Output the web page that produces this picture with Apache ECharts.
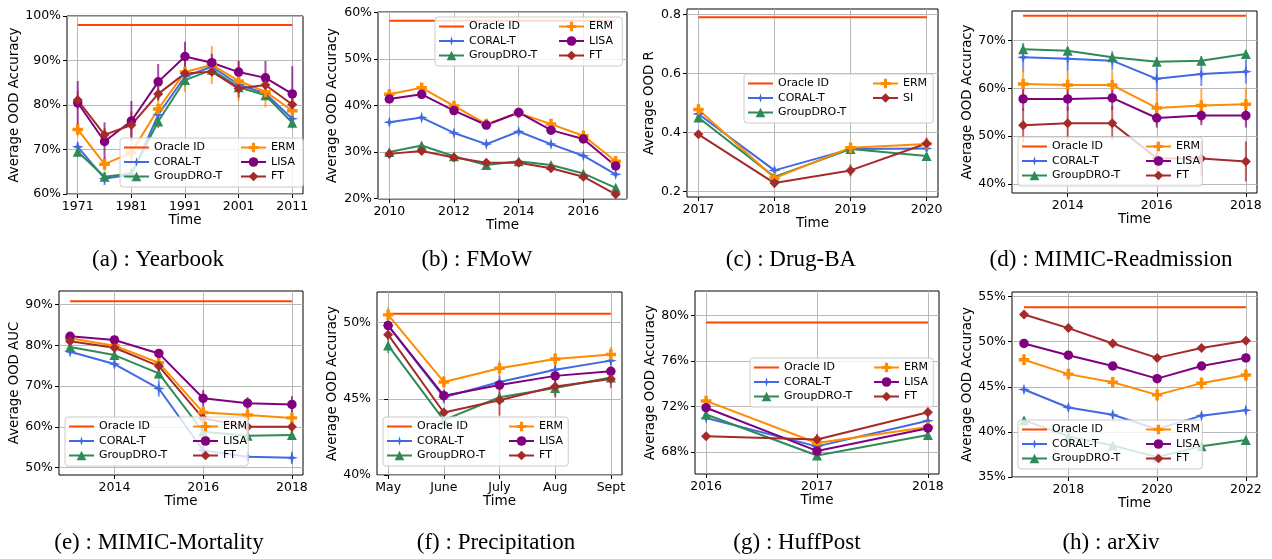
<!DOCTYPE html>
<html><head><meta charset="utf-8">
<script src="https://cdn.jsdelivr.net/npm/echarts@6/dist/echarts.min.js"></script>
<style>html,body{margin:0;padding:0;background:#fff}#c{width:1272px;height:559px}</style>
</head><body><div id="c"></div>
<script>
// ---------- (a) Yearbook ----------
const yb_x = [1971, 1976, 1981, 1986, 1991, 1996, 2001, 2006, 2011];
const yb_xticks = [1971, 1981, 1991, 2001, 2011];
const yb_yticks = [60, 70, 80, 90, 100];
const yb_oracle = 98.0;
const yb_coral = [70.6, 63.5, 64.3, 77.8, 86.4, 88.6, 84.6, 82.6, 76.9];
const yb_coral_err = [1.0, 1.5, 1.5, 2.0, 1.5, 1.0, 1.0, 1.0, 1.2];
const yb_gdro = [69.5, 63.9, 64.6, 76.3, 85.6, 87.9, 84.0, 82.2, 76.0];
const yb_gdro_err = [1.0, 1.0, 1.0, 1.5, 1.5, 1.0, 1.0, 1.0, 1.0];
const yb_erm = [74.5, 66.7, 69.3, 79.1, 87.4, 89.0, 85.4, 83.0, 78.7];
const yb_erm_err = [1.5, 1.5, 2.0, 4.0, 4.5, 4.3, 4.5, 3.5, 4.0];
const yb_lisa = [80.5, 71.8, 76.4, 85.2, 90.9, 89.5, 87.4, 86.1, 82.5];
const yb_lisa_err = [4.9, 4.3, 4.5, 4.0, 3.3, 2.0, 2.5, 3.8, 6.2];
const yb_ft = [81.1, 73.3, 75.5, 82.5, 87.1, 87.5, 83.7, 84.5, 80.1];
const yb_ft_err = [2.0, 1.5, 3.0, 1.5, 1.0, 1.0, 2.0, 1.5, 2.0];

// ---------- (b) FMoW ----------
const fm_x = [2010, 2011, 2012, 2013, 2014, 2015, 2016, 2017];
const fm_xticks = [2010, 2012, 2014, 2016];
const fm_yticks = [20, 30, 40, 50, 60];
const fm_oracle = 58.2;
const fm_coral = [36.4, 37.4, 34.1, 31.7, 34.4, 31.7, 29.2, 25.2];
const fm_coral_err = [0.3, 0.3, 0.3, 0.4, 0.3, 0.3, 0.3, 0.4];
const fm_gdro = [30.0, 31.4, 29.1, 27.2, 28.0, 27.2, 25.4, 22.3];
const fm_gdro_err = [0.3, 0.4, 0.3, 0.4, 0.3, 0.3, 0.3, 0.3];
const fm_erm = [42.4, 43.8, 39.9, 36.0, 38.4, 36.0, 33.5, 28.0];
const fm_erm_err = [0.3, 0.3, 0.3, 0.3, 0.3, 0.3, 0.3, 0.3];
const fm_lisa = [41.4, 42.4, 38.9, 35.8, 38.5, 34.7, 32.8, 27.0];
const fm_lisa_err = [0.3, 0.3, 0.3, 0.3, 0.3, 0.3, 0.3, 0.3];
const fm_ft = [29.6, 30.2, 28.8, 27.7, 27.7, 26.5, 24.7, 20.9];
const fm_ft_err = [0.3, 0.3, 0.3, 0.4, 0.3, 0.3, 0.3, 0.3];

// ---------- (c) Drug-BA ----------
const db_x = [2017, 2018, 2019, 2020];
const db_xticks = [2017, 2018, 2019, 2020];
const db_yticks = [0.2, 0.4, 0.6, 0.8];
const db_oracle = 0.790;
const db_coral = [0.463, 0.272, 0.344, 0.346];
const db_coral_err = [0.01, 0.01, 0.005, 0.01];
const db_gdro = [0.451, 0.250, 0.344, 0.321];
const db_gdro_err = [0.01, 0.01, 0.005, 0.01];
const db_erm = [0.478, 0.246, 0.349, 0.361];
const db_erm_err = [0.02, 0.01, 0.01, 0.015];
const db_si = [0.394, 0.229, 0.272, 0.363];
const db_si_err = [0.01, 0.015, 0.02, 0.02];

// ---------- (d) MIMIC-Readmission ----------
const mr_x = [2013, 2014, 2015, 2016, 2017, 2018];
const mr_xticks = [2014, 2016, 2018];
const mr_yticks = [40, 50, 60, 70];
const mr_oracle = 75.2;
const mr_coral = [66.5, 66.2, 65.8, 62.0, 63.0, 63.5];
const mr_coral_err = [3.0, 2.5, 2.0, 2.5, 2.5, 2.5];
const mr_gdro = [68.2, 67.9, 66.5, 65.6, 65.8, 67.2];
const mr_gdro_err = [1.0, 0.8, 0.8, 1.0, 1.0, 0.8];
const mr_erm = [60.9, 60.7, 60.7, 55.9, 56.4, 56.7];
const mr_erm_err = [3.3, 3.0, 3.0, 3.5, 3.5, 3.5];
const mr_lisa = [57.8, 57.8, 58.0, 53.8, 54.3, 54.3];
const mr_lisa_err = [2.5, 2.5, 2.5, 2.0, 2.0, 2.5];
const mr_ft = [52.3, 52.7, 52.7, 45.4, 45.3, 44.7];
const mr_ft_err = [3.6, 3.5, 3.5, 3.5, 3.6, 4.2];

// ---------- (e) MIMIC-Mortality ----------
const mm_x = [2013, 2014, 2015, 2016, 2017, 2018];
const mm_xticks = [2014, 2016, 2018];
const mm_yticks = [50, 60, 70, 80, 90];
const mm_oracle = 90.8;
const mm_coral = [78.4, 75.4, 69.4, 54.2, 52.7, 52.4];
const mm_coral_err = [0.8, 1.0, 2.0, 2.0, 1.0, 1.5];
const mm_gdro = [79.6, 77.6, 73.1, 58.8, 57.8, 58.0];
const mm_gdro_err = [0.8, 0.8, 1.5, 1.5, 1.0, 1.0];
const mm_erm = [81.7, 79.9, 75.7, 63.5, 62.9, 62.2];
const mm_erm_err = [0.5, 0.5, 1.0, 1.5, 1.5, 1.5];
const mm_lisa = [82.2, 81.3, 78.0, 67.0, 65.8, 65.5];
const mm_lisa_err = [0.5, 0.8, 0.8, 2.0, 1.5, 2.0];
const mm_ft = [81.0, 79.4, 74.9, 62.1, 60.0, 60.0];
const mm_ft_err = [0.8, 1.0, 3.0, 2.5, 2.5, 2.0];

// ---------- (f) Precipitation ----------
const pr_x = [0, 1, 2, 3, 4];
const pr_xticks = [0, 1, 2, 3, 4];
const pr_xlabels = ['May', 'June', 'July', 'Aug', 'Sept'];
const pr_yticks = [40, 45, 50];
const pr_oracle = 50.57;
const pr_coral = [49.8, 45.1, 46.1, 46.9, 47.5];
const pr_coral_err = [0.3, 0.4, 0.4, 0.3, 0.3];
const pr_gdro = [48.5, 43.6, 45.1, 45.7, 46.4];
const pr_gdro_err = [0.5, 0.3, 0.3, 0.5, 0.3];
const pr_erm = [50.5, 46.1, 47.0, 47.6, 47.9];
const pr_erm_err = [0.5, 0.4, 0.5, 0.4, 0.5];
const pr_lisa = [49.8, 45.2, 45.9, 46.5, 46.8];
const pr_lisa_err = [0.3, 0.4, 0.3, 0.3, 0.3];
const pr_ft = [49.2, 44.1, 44.9, 45.8, 46.3];
const pr_ft_err = [0.3, 0.3, 1.0, 0.7, 0.6];

// ---------- (g) HuffPost ----------
const hp_x = [2016, 2017, 2018];
const hp_xticks = [2016, 2017, 2018];
const hp_yticks = [68, 72, 76, 80];
const hp_oracle = 79.4;
const hp_coral = [71.0, 68.5, 70.75];
const hp_coral_err = [0.2, 0.2, 0.3];
const hp_gdro = [71.3, 67.7, 69.5];
const hp_gdro_err = [0.2, 0.3, 0.3];
const hp_erm = [72.5, 68.8, 70.2];
const hp_erm_err = [0.2, 0.3, 0.8];
const hp_lisa = [71.9, 68.1, 70.1];
const hp_lisa_err = [0.2, 0.2, 0.3];
const hp_ft = [69.4, 69.1, 71.5];
const hp_ft_err = [0.2, 0.5, 0.6];

// ---------- (h) arXiv ----------
const ax_x = [2017, 2018, 2019, 2020, 2021, 2022];
const ax_xticks = [2018, 2020, 2022];
const ax_yticks = [35, 40, 45, 50, 55];
const ax_oracle = 53.8;
const ax_coral = [44.7, 42.7, 41.9, 40.3, 41.8, 42.4];
const ax_coral_err = [0.3, 0.3, 0.4, 0.3, 0.3, 0.4];
const ax_gdro = [41.3, 39.5, 38.5, 37.2, 38.4, 39.1];
const ax_gdro_err = [0.3, 0.3, 0.3, 0.3, 0.3, 0.4];
const ax_erm = [48.0, 46.4, 45.5, 44.1, 45.4, 46.3];
const ax_erm_err = [0.6, 0.6, 0.6, 0.7, 0.7, 0.7];
const ax_lisa = [49.8, 48.5, 47.3, 45.9, 47.3, 48.2];
const ax_lisa_err = [0.3, 0.3, 0.3, 0.3, 0.3, 0.3];
const ax_ft = [53.0, 51.5, 49.8, 48.2, 49.3, 50.1];
const ax_ft_err = [0.3, 0.3, 0.3, 0.3, 0.3, 0.3];

// ---------- styles ----------
const NAMES = {oracle:'Oracle ID', coral:'CORAL-T', gdro:'GroupDRO-T', erm:'ERM', lisa:'LISA', ft:'FT', si:'SI'};
const COLORS = {oracle:'#ff4500', coral:'#4169e1', gdro:'#2e8b57', erm:'#ff8c00', lisa:'#800080', ft:'#a52a2a', si:'#a52a2a'};
const STAR4 = 'path://M0,-10 L2.2,-2.2 L10,0 L2.2,2.2 L0,10 L-2.2,2.2 L-10,0 L-2.2,-2.2 Z';
const PLUSP = 'path://M-3.3,-10 L3.3,-10 L3.3,-3.3 L10,-3.3 L10,3.3 L3.3,3.3 L3.3,10 L-3.3,10 L-3.3,3.3 L-10,3.3 L-10,-3.3 L-3.3,-3.3 Z';
const SYMBOLS = {coral:STAR4, gdro:'triangle', erm:PLUSP, lisa:'circle', ft:'diamond', si:'diamond'};
const SIZES = {coral:12, gdro:10, erm:10.5, lisa:9.5, ft:10, si:10};

const panels = [
  {caption:'(a) : Yearbook', yname:'Average OOD Accuracy', x:yb_x, xticks:yb_xticks, yticks:yb_yticks, oracle:yb_oracle, pct:true,
   series:[['coral',yb_coral,yb_coral_err],['gdro',yb_gdro,yb_gdro_err],['erm',yb_erm,yb_erm_err],['lisa',yb_lisa,yb_lisa_err],['ft',yb_ft,yb_ft_err]]},
  {caption:'(b) : FMoW', yname:'Average OOD Accuracy', x:fm_x, xticks:fm_xticks, yticks:fm_yticks, oracle:fm_oracle, pct:true,
   series:[['coral',fm_coral,fm_coral_err],['gdro',fm_gdro,fm_gdro_err],['erm',fm_erm,fm_erm_err],['lisa',fm_lisa,fm_lisa_err],['ft',fm_ft,fm_ft_err]]},
  {caption:'(c) : Drug-BA', yname:'Average OOD R', x:db_x, xticks:db_xticks, yticks:db_yticks, oracle:db_oracle, pct:false,
   series:[['coral',db_coral,db_coral_err],['gdro',db_gdro,db_gdro_err],['erm',db_erm,db_erm_err],['si',db_si,db_si_err]]},
  {caption:'(d) : MIMIC-Readmission', yname:'Average OOD Accuracy', x:mr_x, xticks:mr_xticks, yticks:mr_yticks, oracle:mr_oracle, pct:true,
   series:[['coral',mr_coral,mr_coral_err],['gdro',mr_gdro,mr_gdro_err],['erm',mr_erm,mr_erm_err],['lisa',mr_lisa,mr_lisa_err],['ft',mr_ft,mr_ft_err]]},
  {caption:'(e) : MIMIC-Mortality', yname:'Average OOD AUC', x:mm_x, xticks:mm_xticks, yticks:mm_yticks, oracle:mm_oracle, pct:true,
   series:[['coral',mm_coral,mm_coral_err],['gdro',mm_gdro,mm_gdro_err],['erm',mm_erm,mm_erm_err],['lisa',mm_lisa,mm_lisa_err],['ft',mm_ft,mm_ft_err]]},
  {caption:'(f) : Precipitation', yname:'Average OOD Accuracy', x:pr_x, xticks:pr_xticks, xlabels:pr_xlabels, yticks:pr_yticks, oracle:pr_oracle, pct:true,
   series:[['coral',pr_coral,pr_coral_err],['gdro',pr_gdro,pr_gdro_err],['erm',pr_erm,pr_erm_err],['lisa',pr_lisa,pr_lisa_err],['ft',pr_ft,pr_ft_err]]},
  {caption:'(g) : HuffPost', yname:'Average OOD Accuracy', x:hp_x, xticks:hp_xticks, yticks:hp_yticks, oracle:hp_oracle, pct:true,
   series:[['coral',hp_coral,hp_coral_err],['gdro',hp_gdro,hp_gdro_err],['erm',hp_erm,hp_erm_err],['lisa',hp_lisa,hp_lisa_err],['ft',hp_ft,hp_ft_err]]},
  {caption:'(h) : arXiv', yname:'Average OOD Accuracy', x:ax_x, xticks:ax_xticks, yticks:ax_yticks, oracle:ax_oracle, pct:true,
   series:[['coral',ax_coral,ax_coral_err],['gdro',ax_gdro,ax_gdro_err],['erm',ax_erm,ax_erm_err],['lisa',ax_lisa,ax_lisa_err],['ft',ax_ft,ax_ft_err]]}
];

// layout: grid [left, top, width, height], axis ranges, y-name gap, legend box [left, top, width], col2 offset, caption centre
const layout = [
  {grid:[67, 16, 236, 178], xr:[1969, 2013], yr:[60, 100], yg:45, leg:[120, 138, 183], off:120, cap:[158, 260]},
  {grid:[378, 12, 249, 187], xr:[2009.65, 2017.35], yr:[19.9, 60.1], yg:39, leg:[435, 17, 187], off:123, cap:[477, 260]},
  {grid:[687, 9, 251, 188], xr:[2016.85, 2020.15], yr:[0.182, 0.818], yg:31, leg:[744, 74, 189], off:128, cap:[791, 260]},
  {grid:[1012, 11, 245, 182], xr:[2012.75, 2018.25], yr:[38.1, 76.2], yg:38, leg:[1018, 137, 184], off:127, cap:[1111, 260]},
  {grid:[59, 291, 244, 184], xr:[2012.75, 2018.25], yr:[48.2, 93.3], yg:37, leg:[65, 417, 183], off:127, cap:[159, 543]},
  {grid:[377, 292, 245, 183], xr:[-0.2, 4.2], yr:[40, 52], yg:38, leg:[383, 417, 185], off:125, cap:[496, 543]},
  {grid:[695, 291, 244, 183], xr:[2015.9, 2018.1], yr:[66.07, 82.17], yg:37, leg:[750, 358, 183], off:123, cap:[797, 543]},
  {grid:[1012, 292, 245, 185], xr:[2016.73, 2022.25], yr:[35, 55.5], yg:38, leg:[1018, 420, 184], off:127, cap:[1111, 543]}
];

const FONT = 'DejaVu Sans';
function errRender(color) {
  return function (params, api) {
    const x = api.value(0), lo = api.value(1), hi = api.value(2);
    const p1 = api.coord([x, lo]), p2 = api.coord([x, hi]);
    return {type:'line', shape:{x1:p1[0], y1:p1[1], x2:p2[0], y2:p2[1]},
            style:{stroke:color, lineWidth:2, opacity:0.7}};
  };
}

const option = {animation:false, backgroundColor:'#fff', grid:[], xAxis:[], yAxis:[], series:[], legend:[], graphic:[]};

panels.forEach((P, i) => {
  const L = layout[i];
  option.grid.push({left:L.grid[0], top:L.grid[1], width:L.grid[2], height:L.grid[3], show:true,
    borderColor:'#000', borderWidth:1, backgroundColor:'transparent', containLabel:false, outerBoundsMode:'none'});
  option.xAxis.push({gridIndex:i, type:'value', min:L.xr[0], max:L.xr[1],
    name:'Time', nameLocation:'middle', nameGap:19,
    nameTextStyle:{fontFamily:FONT, fontSize:13.5, color:'#000'},
    axisLine:{show:false},
    axisTick:{show:true, length:4, lineStyle:{color:'#000', width:1}, customValues:P.xticks},
    axisLabel:{customValues:P.xticks, margin:6, fontFamily:FONT, fontSize:12.5, color:'#000',
      formatter: v => P.xlabels ? P.xlabels[P.xticks.indexOf(v)] : String(Math.round(v))},
    splitLine:{show:true, lineStyle:{color:'#b8b8b8', width:1}}});
  option.yAxis.push({gridIndex:i, type:'value', min:L.yr[0], max:L.yr[1],
    name:P.yname, nameLocation:'middle', nameGap:L.yg, nameRotate:90,
    nameTextStyle:{fontFamily:FONT, fontSize:13.3, color:'#000'},
    axisLine:{show:false},
    axisTick:{show:true, length:4, lineStyle:{color:'#000', width:1}, customValues:P.yticks},
    axisLabel:{customValues:P.yticks, margin:6, fontFamily:FONT, fontSize:12.5, color:'#000',
      formatter: v => P.pct ? Math.round(v) + '%' : v.toFixed(1)},
    splitLine:{show:true, lineStyle:{color:'#b8b8b8', width:1}}});

  // Oracle ID line
  option.series.push({type:'line', name:NAMES.oracle, xAxisIndex:i, yAxisIndex:i,
    data:[[P.x[0], P.oracle], [P.x[P.x.length - 1], P.oracle]],
    symbol:'none', lineStyle:{color:COLORS.oracle, width:2}, itemStyle:{color:COLORS.oracle}, z:3});

  P.series.forEach(([key, vals, err]) => {
    const color = COLORS[key];
    option.series.push({type:'custom', xAxisIndex:i, yAxisIndex:i, silent:true, z:3,
      renderItem:errRender(color), encode:{x:0, y:[1, 2]},
      data:P.x.map((xv, j) => [xv, vals[j] - err[j], vals[j] + err[j]])});
    option.series.push({type:'line', name:NAMES[key], xAxisIndex:i, yAxisIndex:i,
      data:P.x.map((xv, j) => [xv, vals[j]]),
      symbol:SYMBOLS[key], symbolSize:SIZES[key], showSymbol:true,
      lineStyle:{color:color, width:2}, itemStyle:{color:color, opacity:1}, z:3});
  });

  const keys = P.series.map(s => s[0]);
  const col1 = [{name:NAMES.oracle, itemStyle:{opacity:0}}, NAMES[keys[0]], NAMES[keys[1]]];
  const col2 = keys.slice(2).map(k => NAMES[k]);
  const textStyle = {fontFamily:FONT, fontSize:11, color:'#000'};
  const contentW = 25 + 5 + 69;
  option.legend.push({left:L.leg[0], top:L.leg[1], orient:'vertical', data:col1, selectedMode:false,
    itemWidth:25, itemHeight:12, itemGap:3.5, textStyle:textStyle,
    padding:[4, L.leg[2] - contentW - 3, 5, 3],
    backgroundColor:'rgba(255,255,255,0.8)', borderColor:'#cccccc', borderWidth:1, borderRadius:3, z:6});
  option.legend.push({left:L.leg[0] + L.off, top:L.leg[1], orient:'vertical', data:col2, selectedMode:false,
    itemWidth:25, itemHeight:12, itemGap:3.5, textStyle:textStyle, padding:[4, 3, 5, 0], z:7});

  option.graphic.push({type:'text', x:L.cap[0], y:L.cap[1],
    style:{text:P.caption, font:'23px "Liberation Serif"', fill:'#000',
      textAlign:'center', textVerticalAlign:'middle', align:'center', verticalAlign:'middle'}});
});

const chart = echarts.init(document.getElementById('c'), null, {renderer:'canvas'});
chart.setOption(option);
</script>
</body></html>
